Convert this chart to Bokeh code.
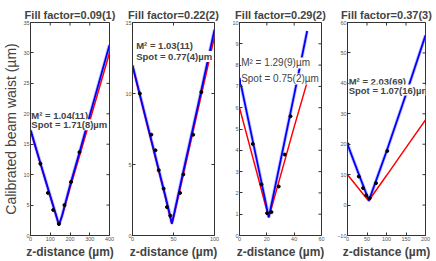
import math
from bokeh.plotting import figure
from bokeh.models import Label, FixedTicker, Range1d
from bokeh.layouts import row
from bokeh.embed import file_html
from bokeh.resources import INLINE

FONT = "Liberation Sans"

titles = ["Fill factor=0.09(1)", "Fill factor=0.22(2)", "Fill factor=0.29(2)", "Fill factor=0.37(3)"]
m2_texts = ["M\u00b2 = 1.04(11)", "M\u00b2 = 1.03(11)", "M\u00b2 = 1.29(9)\u00b5m", "M\u00b2 = 2.03(69)"]
spot_texts = ["Spot = 1.71(8)\u00b5m", "Spot = 0.77(4)\u00b5m", "Spot = 0.75(2)\u00b5m", "Spot = 1.07(16)\u00b5m"]

# Panel 1 (fill factor 0.09)
p1_z = [0, 50, 100, 130, 144, 160, 200, 250, 300, 350, 400]
p1_blue = [17.4, 11.9, 6.5, 3.3, 1.7, 3.3, 8.2, 13.9, 19.7, 25.5, 31.3]
p1_red = [17.2, 11.8, 6.4, 3.2, 1.8, 3.2, 7.8, 13.3, 18.8, 24.4, 30.0]
p1_dot_z = [50, 88, 115, 144, 172, 205, 248]
p1_dot_w = [11.8, 7.0, 4.2, 1.9, 5.0, 8.8, 13.7]
p1_xticks = [0, 100, 200, 300, 400]
p1_yticks = [0, 5, 10, 15, 20, 25, 30, 35]

# Panel 2 (fill factor 0.22)
p2_z = [0, 20, 40, 45, 48, 51, 60, 80, 100]
p2_blue = [12.0, 7.4, 2.8, 1.6, 0.85, 1.6, 4.0, 9.2, 14.5]
p2_red = [11.9, 7.3, 2.7, 1.5, 0.8, 1.5, 3.8, 8.9, 14.0]
p2_dot_z = [9, 23, 28, 32, 38, 42, 46, 58, 62, 74, 84]
p2_dot_w = [10.0, 7.1, 6.0, 4.6, 3.3, 2.0, 1.4, 3.0, 4.3, 7.1, 10.1]
p2_xticks = [0, 50, 100]
p2_yticks = [0, 5, 10, 15]

# Panel 3 (fill factor 0.29)
p3_z = [0, 10, 19, 21.4, 24, 30, 40, 49.5]
p3_blue = [7.4, 4.35, 1.6, 0.85, 1.65, 3.5, 6.6, 9.6]
p3_red_z = [0, 10, 18.5, 21.4, 24.5, 30, 40, 49.5]
p3_red = [6.0, 3.6, 1.55, 0.85, 1.55, 2.8, 5.1, 7.2]
p3_dot_z = [9.7, 16.1, 20.2, 23.4, 28.7, 33.1, 37.3]
p3_dot_w = [4.3, 2.4, 1.05, 1.1, 2.3, 3.8, 5.6]
p3_xticks = [0, 20, 40, 60]
p3_yticks = [0, 1, 2, 3, 4, 5, 6, 7, 8, 9, 10]

# Panel 4 (fill factor 0.37)
p4_z = [0, 25, 45, 55, 62, 100, 150, 200]
p4_blue = [20.0, 11.5, 4.8, 1.5, 4.0, 17.6, 36.4, 55.8]
p4_red = [10.0, 6.0, 2.8, 1.3, 2.8, 9.7, 18.9, 28.0]
p4_dot_z = [0, 29, 40, 48, 57, 73, 102]
p4_dot_w = [20.0, 9.4, 5.6, 3.2, 2.3, 7.2, 17.8]
p4_xticks = [0, 50, 100, 150, 200]
p4_yticks = [-10, 0, 10, 20, 30, 40, 50, 60]


def panel(i, xr, yr, xt, yt, fz, fb, rz, rr, dz, dw, ann_x, ann_y1, ann_y2,
          bold, ann_size, width, left, right, ylabel=None):
    p = figure(width=width, height=261, x_range=Range1d(*xr), y_range=Range1d(*yr),
               output_backend="svg", toolbar_location=None,
               min_border_left=left, min_border_right=right,
               min_border_top=22, min_border_bottom=23)
    p.grid.visible = False
    p.outline_line_color = "#333333"
    p.background_fill_color = "white"
    p.border_fill_color = "white"
    p.title.text = titles[i]
    p.title.align = "center"
    p.title.text_font = FONT
    p.title.text_font_size = "11px"
    p.title.text_font_style = "bold"
    p.title.standoff = 3

    for ax, ticks in ((p.xaxis[0], xt), (p.yaxis[0], yt)):
        ax.ticker = FixedTicker(ticks=ticks, minor_ticks=[])
        ax.major_tick_in = 3
        ax.major_tick_out = 0
        ax.axis_line_color = "#333333"
        ax.major_tick_line_color = "#333333"
        ax.major_label_text_font = FONT
        ax.major_label_text_font_size = "5.5px"
        ax.major_label_text_color = "#555555"
        ax.major_label_standoff = 1
    p.xaxis.axis_label = "z-distance (\u00b5m)"
    p.xaxis.axis_label_text_font = FONT
    p.xaxis.axis_label_text_font_size = "12px"
    p.xaxis.axis_label_text_font_style = "bold"
    p.xaxis.axis_label_standoff = 1
    if ylabel:
        p.yaxis.axis_label = ylabel
        p.yaxis.axis_label_text_font = FONT
        p.yaxis.axis_label_text_font_size = "14px"
        p.yaxis.axis_label_text_font_style = "normal"
        p.yaxis.axis_label_standoff = 1

    # inward ticks on the top and right edges of the box
    p.ray(x=xt, y=[yr[1]] * len(xt), length=3, length_units="screen",
          angle=-math.pi / 2, line_color="#333333", line_width=1)
    p.ray(x=[xr[1]] * len(yt), y=yt, length=3, length_units="screen",
          angle=math.pi, line_color="#333333", line_width=1)

    p.line(fz, fb, line_color="#8f8fff", line_width=3.5, line_alpha=0.55)
    p.line(rz, rr, line_color="#ff0000", line_width=1.5)
    p.line(fz, fb, line_color="#0000ff", line_width=1.8)
    p.scatter(dz, dw, size=3, color="black")

    for txt, yy in ((m2_texts[i], ann_y1), (spot_texts[i], ann_y2)):
        p.add_layout(Label(x=ann_x, y=yy, text=txt, text_font=FONT,
                           text_font_size=ann_size,
                           text_font_style="bold" if bold else "normal",
                           text_baseline="middle", text_align="left",
                           background_fill_color="white"))
    return p


f1 = panel(0, (0, 400), (0, 35), p1_xticks, p1_yticks, p1_z, p1_blue, p1_z, p1_red,
           p1_dot_z, p1_dot_w, 4, 19.8, 18.2, True, "9.5px", 122, 29, 13,
           ylabel="Calibrated beam waist (\u00b5m)")
f2 = panel(1, (0, 100), (0, 15), p2_xticks, p2_yticks, p2_z, p2_blue, p2_z, p2_red,
           p2_dot_z, p2_dot_w, 4.5, 13.4, 12.6, True, "9.5px", 107, 9, 15)
f3 = panel(2, (0, 60), (0, 10), p3_xticks, p3_yticks, p3_z, p3_blue, p3_red_z, p3_red,
           p3_dot_z, p3_dot_w, 1.2, 8.1, 7.35, False, "10px", 105, 10, 13)
f4 = panel(3, (0, 200), (-10, 60), p4_xticks, p4_yticks, p4_z, p4_blue, p4_z, p4_red,
           p4_dot_z, p4_dot_w, 3, 40.7, 37.8, True, "9.5px", 102, 11, 11)

layout = row(f1, f2, f3, f4)
open("out.html", "w").write(file_html(layout, INLINE))
